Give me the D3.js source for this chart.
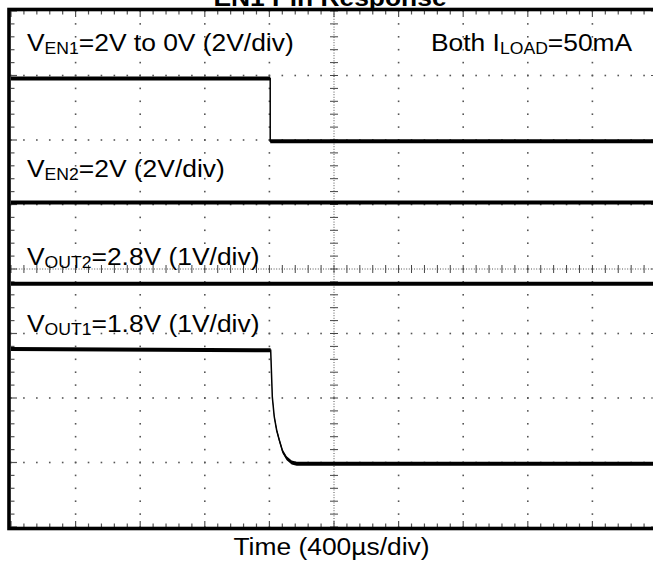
<!DOCTYPE html>
<html>
<head>
<meta charset="utf-8">
<script src="https://cdn.jsdelivr.net/npm/d3@7/dist/d3.min.js"></script>
<style>
  html, body { margin: 0; padding: 0; background: #fff; }
  svg { display: block; }
  text { font-family: "Liberation Sans", Arial, sans-serif; fill: #000; }
</style>
</head>
<body>
<svg id="scope" width="653" height="561"></svg>
<script>
// --- data (time in us, values in volts) ---
var en1Time = [0, 1605, 1605, 4000];
var en1Volts = [1.95, 1.95, 0, 0];

var en2Time = [0, 4000];
var en2Volts = [2.0, 2.0];

var vout2Time = [0, 4000];
var vout2Volts = [2.79, 2.79];

var vout1Time = [0, 1608, 1618, 1630, 1645, 1661, 1682, 1707, 1738, 1769, 4000];
var vout1Volts = [1.78, 1.76, 1.04, 0.73, 0.52, 0.37, 0.19, 0.085, 0.02, 0, 0];

var timeDivs = 10, voltDivs = 8, minorPerDiv = 5;
var usPerDiv = 400;

// scope channel setup: volts per division and ground marker (in divisions from bottom)
var channels = [
  {t: en1Time, v: en1Volts, vdiv: 2, gnd: 5.98},
  {t: en2Time, v: en2Volts, vdiv: 2, gnd: 4.03},
  {t: vout2Time, v: vout2Volts, vdiv: 1, gnd: 0.98},
  {t: vout1Time, v: vout1Volts, vdiv: 1, gnd: 0.98}
];

var svg = d3.select('#scope');
var plot = {l: 11, r: 657, t: 11, b: 527};

var xScale = d3.scaleLinear().domain([0, timeDivs * usPerDiv]).range([plot.l, plot.r]);
var yScale = d3.scaleLinear().domain([0, voltDivs]).range([plot.b, plot.t]);

var grid = svg.append('g');

var minorX = d3.range(0, timeDivs * minorPerDiv + 1).map(function(i) { return i * usPerDiv / minorPerDiv; });
var minorY = d3.range(0, voltDivs * minorPerDiv + 1).map(function(i) { return i / minorPerDiv; });
var majorX = d3.range(1, timeDivs).filter(function(i) { return i != timeDivs / 2; }).map(function(i) { return i * usPerDiv; });
var majorY = d3.range(1, voltDivs).filter(function(i) { return i != voltDivs / 2; });

// dotted rows / columns
var dots = [];
majorY.forEach(function(yv) {
  minorX.forEach(function(xv) { dots.push([xv, yv]); });
});
majorX.forEach(function(xv) {
  minorY.forEach(function(yv) { dots.push([xv, yv]); });
});
grid.selectAll('.dot')
  .data(dots)
  .enter()
  .append('rect')
  .attr('class', 'dot')
  .attr('x', function(d) { return xScale(d[0]) - 0.8; })
  .attr('y', function(d) { return yScale(d[1]) - 0.8; })
  .attr('width', 1.6)
  .attr('height', 1.6)
  .style('fill', '#555');

// centre axes, fine dotted with ticks
var cx = xScale(timeDivs * usPerDiv / 2), cy = yScale(voltDivs / 2);
grid.append('line')
  .attr('x1', cx).attr('x2', cx).attr('y1', plot.t).attr('y2', plot.b)
  .style('stroke', '#555').style('stroke-width', 1).style('stroke-dasharray', '1,1.6');
grid.append('line')
  .attr('x1', plot.l).attr('x2', plot.r).attr('y1', cy).attr('y2', cy)
  .style('stroke', '#555').style('stroke-width', 1).style('stroke-dasharray', '1,1.6');

grid.selectAll('.vtick')
  .data(minorY)
  .enter()
  .append('line')
  .attr('x1', cx - 4).attr('x2', cx + 4)
  .attr('y1', function(d) { return yScale(d); })
  .attr('y2', function(d) { return yScale(d); })
  .style('stroke', '#444').style('stroke-width', 1);
grid.selectAll('.htick')
  .data(minorX)
  .enter()
  .append('line')
  .attr('y1', cy - 4).attr('y2', cy + 4)
  .attr('x1', function(d) { return xScale(d); })
  .attr('x2', function(d) { return xScale(d); })
  .style('stroke', '#444').style('stroke-width', 1);

// edge ticks
function tickLen(i) { return i % minorPerDiv == 0 ? 6 : 3.5; }
minorX.forEach(function(xv, i) {
  var x = xScale(xv);
  grid.append('line').attr('x1', x).attr('x2', x).attr('y1', plot.t).attr('y2', plot.t + tickLen(i))
    .style('stroke', '#555').style('stroke-width', 1.2);
  grid.append('line').attr('x1', x).attr('x2', x).attr('y1', plot.b).attr('y2', plot.b - tickLen(i))
    .style('stroke', '#555').style('stroke-width', 1.2);
});
minorY.forEach(function(yv, i) {
  var y = yScale(yv);
  grid.append('line').attr('x1', plot.l).attr('x2', plot.l + tickLen(i)).attr('y1', y).attr('y2', y)
    .style('stroke', '#555').style('stroke-width', 1.2);
  grid.append('line').attr('x1', plot.r).attr('x2', plot.r - tickLen(i)).attr('y1', y).attr('y2', y)
    .style('stroke', '#555').style('stroke-width', 1.2);
});

// traces: thick noisy band plus thin core line
var traces = svg.append('g');
channels.forEach(function(ch) {
  var pts = ch.t.map(function(t, i) { return [t, ch.gnd + ch.v[i] / ch.vdiv]; });
  var band = d3.area()
    .x(function(d) { return xScale(d[0]); })
    .y0(function(d) { return yScale(d[1]) - 2; })
    .y1(function(d) { return yScale(d[1]) + 2; });
  var line = d3.line()
    .x(function(d) { return xScale(d[0]); })
    .y(function(d) { return yScale(d[1]); });
  traces.append('path').attr('d', band(pts)).style('fill', '#000');
  traces.append('path').attr('d', line(pts))
    .style('fill', 'none').style('stroke', '#000').style('stroke-width', 1.5);
});

// frame
svg.append('rect')
  .attr('x', 9).attr('y', 9.5)
  .attr('width', 650).attr('height', 519)
  .style('fill', 'none').style('stroke', '#000').style('stroke-width', 3.6);

// labels
var stretch = 1.1;
function label(x, y, parts, anchor, weight) {
  var t = svg.append('text')
    .attr('transform', 'translate(' + [x, y] + ') scale(' + stretch + ',1)')
    .attr('text-anchor', anchor || 'start')
    .style('font-size', '24px')
    .style('font-weight', weight || 'normal');
  var shifted = false;
  parts.forEach(function(p) {
    var s = t.append('tspan').text(p[0]);
    if (p[1]) {
      s.style('font-size', '16px').attr('dy', shifted ? 0 : 3);
      shifted = true;
    } else if (shifted) {
      s.attr('dy', -3);
      shifted = false;
    }
  });
}

label(330, 5.5, [['EN1 Pin Response']], 'middle', 'bold');
label(27, 51, [['V'], ['EN1', true], ['=2V to 0V (2V/div)']]);
label(431, 51, [['Both I'], ['LOAD', true], ['=50mA']]);
label(27, 177, [['V'], ['EN2', true], ['=2V (2V/div)']]);
label(27, 265, [['V'], ['OUT2', true], ['=2.8V (1V/div)']]);
label(27, 332, [['V'], ['OUT1', true], ['=1.8V (1V/div)']]);
label(331.5, 555, [['Time (400\u00b5s/div)']], 'middle');
</script>
</body>
</html>
